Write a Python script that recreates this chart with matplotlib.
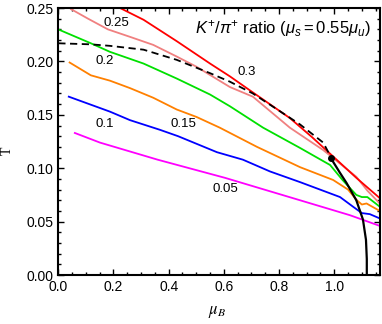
import matplotlib
matplotlib.use("Agg")
import matplotlib.pyplot as plt
from matplotlib.ticker import MultipleLocator

plt.rcParams['font.family'] = ['Liberation Sans', 'DejaVu Sans']
plt.rcParams['mathtext.fontset'] = 'custom'
plt.rcParams['mathtext.rm'] = 'Liberation Sans'
plt.rcParams['mathtext.it'] = 'Liberation Sans:italic'

# contour lines of K+/pi+ ratio, (mu_B, T)
mu_005 = [0.06, 0.151, 0.36, 0.604, 0.876, 1.057, 1.165]
T_005 = [0.133, 0.124, 0.108, 0.091, 0.070, 0.056, 0.046]

mu_01 = [0.038, 0.187, 0.26, 0.368, 0.434, 0.575, 0.669, 0.767, 0.876, 1.021, 1.068, 1.10, 1.129, 1.165]
T_01 = [0.167, 0.153, 0.145, 0.136, 0.130, 0.115, 0.108, 0.097, 0.087, 0.073, 0.064, 0.058, 0.057, 0.053]

mu_015 = [0.041, 0.118, 0.187, 0.26, 0.344, 0.429, 0.501, 0.585, 0.72, 0.876, 0.996, 1.05, 1.082, 1.10, 1.117, 1.165]
T_015 = [0.199, 0.187, 0.182, 0.175, 0.166, 0.155, 0.148, 0.138, 0.120, 0.101, 0.089, 0.080, 0.070, 0.066, 0.067, 0.060]

mu_02 = [0.0, 0.118, 0.187, 0.309, 0.429, 0.55, 0.622, 0.742, 0.876, 0.985, 1.03, 1.08, 1.10, 1.12, 1.165]
T_02 = [0.230, 0.217, 0.209, 0.198, 0.184, 0.169, 0.158, 0.138, 0.119, 0.103, 0.089, 0.075, 0.073, 0.073, 0.064]

mu_025 = [0.046, 0.108, 0.18, 0.26, 0.344, 0.429, 0.501, 0.622, 0.705, 0.839, 0.96, 1.08, 1.12, 1.165]
T_025 = [0.249, 0.240, 0.230, 0.223, 0.2155, 0.2046, 0.195, 0.176, 0.167, 0.138, 0.117, 0.092, 0.079, 0.067]

mu_03 = [0.20, 0.224, 0.309, 0.429, 0.55, 0.622, 0.705, 0.839, 0.92, 0.996, 1.08, 1.165]
T_03 = [0.253, 0.250, 0.239, 0.219, 0.198, 0.186, 0.171, 0.147, 0.129, 0.111, 0.091, 0.072]

# crossover (dashed), first order line (solid), critical point
mu_cross = [0.0, 0.118, 0.187, 0.309, 0.429, 0.55, 0.622, 0.705, 0.876, 0.96, 0.989]
T_cross = [0.217, 0.216, 0.2146, 0.211, 0.2015, 0.189, 0.181, 0.170, 0.141, 0.124, 0.110]
mu_first = [0.989, 0.996, 1.02, 1.045, 1.08, 1.104, 1.115, 1.118, 1.118]
T_first = [0.110, 0.106, 0.096, 0.086, 0.070, 0.052, 0.033, 0.015, 0.0]
mu_cep, T_cep = 0.989, 0.110

labels = ['0.05', '0.1', '0.15', '0.2', '0.25', '0.3']
label_mu = [0.604, 0.168, 0.452, 0.168, 0.209, 0.683]
label_T = [0.081, 0.141, 0.141, 0.200, 0.236, 0.190]

fig = plt.figure(figsize=(3.82, 3.24), dpi=100)
ax = fig.add_axes([0.1526, 0.1512, 0.843, 0.824])

ax.plot(mu_005, T_005, color='#ff00ff', lw=1.3)
ax.plot(mu_01, T_01, color='#0000ff', lw=1.3)
ax.plot(mu_015, T_015, color='#ff8000', lw=1.3)
ax.plot(mu_02, T_02, color='#00e000', lw=1.3)
ax.plot(mu_025, T_025, color='#f08080', lw=1.3)
ax.plot(mu_03, T_03, color='#ff0000', lw=1.3)

ax.plot(mu_cross, T_cross, color='black', lw=1.3, ls=(0, (4, 2.5)))
ax.plot(mu_first, T_first, color='black', lw=1.6)
ax.plot([mu_cep], [T_cep], 'o', color='black', ms=4)

for s, x, y in zip(labels, label_mu, label_T):
    ax.text(x, y, s, fontsize=9.5, ha='center', va='center')

ax.text(0.97, 0.925, r'$K^{+}/\pi^{+}$ ratio ($\mu_s = 0.55\mu_u$)',
        transform=ax.transAxes, ha='right', va='center', fontsize=12)

ax.set_xlim(0, 1.167)
ax.set_ylim(0, 0.25)
ax.xaxis.set_major_locator(MultipleLocator(0.2))
ax.xaxis.set_minor_locator(MultipleLocator(0.05))
ax.yaxis.set_major_locator(MultipleLocator(0.05))
ax.yaxis.set_minor_locator(MultipleLocator(0.01))
ax.xaxis.set_major_formatter(plt.FuncFormatter(lambda v, p: '%.1f' % v))
ax.yaxis.set_major_formatter(plt.FuncFormatter(lambda v, p: '%.2f' % v))
ax.tick_params(which='both', direction='in', top=True, right=True, labelsize=10, width=1)
ax.tick_params(which='major', length=4.5)
ax.tick_params(which='minor', length=2.5)
for sp in ax.spines.values():
    sp.set_linewidth(1.5)

ax.set_xlabel(r'$\mu_B$', fontsize=12, math_fontfamily='stix', va='center')
ax.xaxis.set_label_coords(0.492, -0.139)
ax.set_ylabel('T', fontsize=10, family='Liberation Serif', va='center')
ax.yaxis.set_label_coords(-0.159, 0.464)

fig.savefig('out.png', dpi=100)
